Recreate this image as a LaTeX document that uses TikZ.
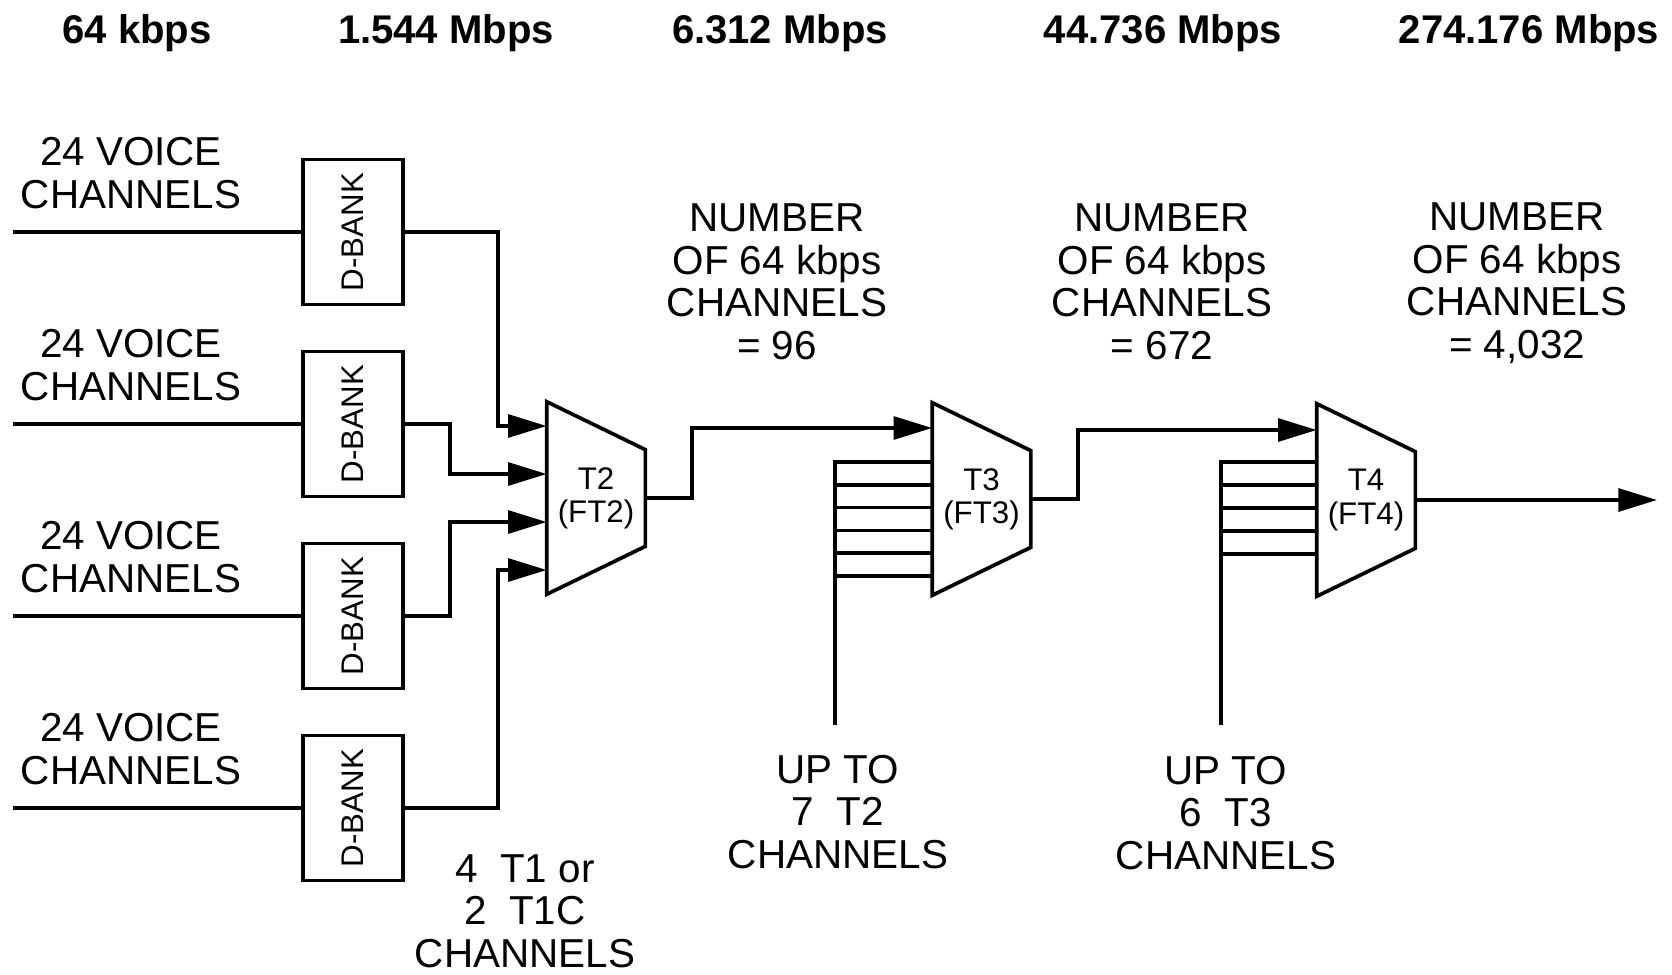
\documentclass[tikz,border=0pt]{standalone}
\usepackage{fontspec}
\usepackage{graphicx}
\setmainfont{Liberation Sans}
\usetikzlibrary{arrows.meta,calc}
\begin{document}
\begin{tikzpicture}[x=0.02cm,y=-0.02cm,
  lab/.style={font=\fontsize{23}{24.2}\selectfont, align=center, inner sep=0pt},
  hdr/.style={font=\bfseries\fontsize{22.8}{24}\selectfont, inner sep=0pt, anchor=base},
  dbank/.style={draw, line width=2.1pt, minimum width=2cm, minimum height=2.9cm, inner sep=0pt, font=\fontsize{17.8}{19}\selectfont},
  mux/.style={minimum width=1.96cm, minimum height=3.84cm, inner sep=0pt, align=center, font=\fontsize{17.8}{18.9}\selectfont},
  wire/.style={line width=2.1pt},
  arr/.style={wire, -{Triangle[length=22pt,width=13pt]}},
  muxline/.style={line width=2.1pt, line join=miter}]
\useasboundingbox (0,0) rectangle (1672,974);

% headers
\node[hdr] (h1) at (137,43) {64 kbps};
\node[hdr] (h2) at (446,43) {1.544 Mbps};
\node[hdr] (h3) at (780,43) {6.312 Mbps};
\node[hdr] (h4) at (1163,43) {44.736 Mbps};
\node[hdr] (h5) at (1529,43) {274.176 Mbps};

% voice labels
\node[lab] (v1) at (131,173) {24 VOICE\\CHANNELS};
\node[lab] (v2) at (131,365) {24 VOICE\\CHANNELS};
\node[lab] (v3) at (131,557) {24 VOICE\\CHANNELS};
\node[lab] (v4) at (131,749) {24 VOICE\\CHANNELS};

% D-banks
\node[dbank] (d1) at (353,232) {\rotatebox{90}{D-BANK}};
\node[dbank] (d2) at (353,424) {\rotatebox{90}{D-BANK}};
\node[dbank] (d3) at (353,616) {\rotatebox{90}{D-BANK}};
\node[dbank] (d4) at (353,808) {\rotatebox{90}{D-BANK}};

\coordinate (i1) at (13,232);
\coordinate (i2) at (13,424);
\coordinate (i3) at (13,616);
\coordinate (i4) at (13,808);
\foreach \k in {1,2,3,4} \draw[wire] (i\k) -- (d\k.west);

% multiplexers
\node[mux] (t2) at (596,498) {T2\\(FT2)};
\node[mux] (t3) at (981.5,499) {T3\\(FT3)};
\node[mux] (t4) at (1366,500) {T4\\(FT4)};
\foreach \m in {t2,t3,t4}
  \draw[muxline] (\m.north west) -- ([yshift=-0.96cm]\m.north east)
     -- ([yshift=0.96cm]\m.south east) -- (\m.south west) -- cycle;

% D-bank to T2
\draw[arr] (d1.east) -| ($(t2.west)+(-49,-72)$) -- ($(t2.west)+(0,-72)$);
\draw[arr] (d2.east) -| ($(t2.west)+(-97,-24)$) -- ($(t2.west)+(0,-24)$);
\draw[arr] (d3.east) -| ($(t2.west)+(-97,24)$) -- ($(t2.west)+(0,24)$);
\draw[arr] (d4.east) -| ($(t2.west)+(-49,72)$) -- ($(t2.west)+(0,72)$);

% T2 to T3, T3 to T4, T4 out
\draw[arr] (t2.east) -| ($(t3.west)+(-240,-71)$) -- ($(t3.west)+(0,-71)$);
\draw[arr] (t3.east) -| ($(t4.west)+(-239,-70)$) -- ($(t4.west)+(0,-70)$);
\coordinate (out) at (1657,500);
\draw[arr] (t4.east) -- (out);

% bundles
\coordinate (b3) at (835,725);
\draw[wire] (b3) |- ($(t3.west)+(0,-37)$);
\foreach \k in {1,...,5}
  \draw[wire] ($(t3.west)+(-98,-37+22.8*\k)$) -- ($(t3.west)+(0,-37+22.8*\k)$);
\coordinate (b4) at (1221,725);
\draw[wire] (b4) |- ($(t4.west)+(0,-38)$);
\foreach \k in {1,...,4}
  \draw[wire] ($(t4.west)+(-96,-38+23*\k)$) -- ($(t4.west)+(0,-38+23*\k)$);

% labels
\node[lab] (n1) at (777,282) {NUMBER\\OF 64 kbps\\CHANNELS\\= 96};
\node[lab] (n2) at (1162,282) {NUMBER\\OF 64 kbps\\CHANNELS\\= 672};
\node[lab] (n3) at (1517,283) {NUMBER\\OF 64 kbps\\CHANNELS\\= 4,032};
\node[lab] (u1) at (838,812) {UP TO\\7\ \ T2\\CHANNELS};
\node[lab] (u2) at (1226,813) {UP TO\\6\ \ T3\\CHANNELS};
\node[lab] (c1) at (525,911) {4\ \ T1 or\\2\ \ T1C\\CHANNELS};
\end{tikzpicture}
\end{document}
